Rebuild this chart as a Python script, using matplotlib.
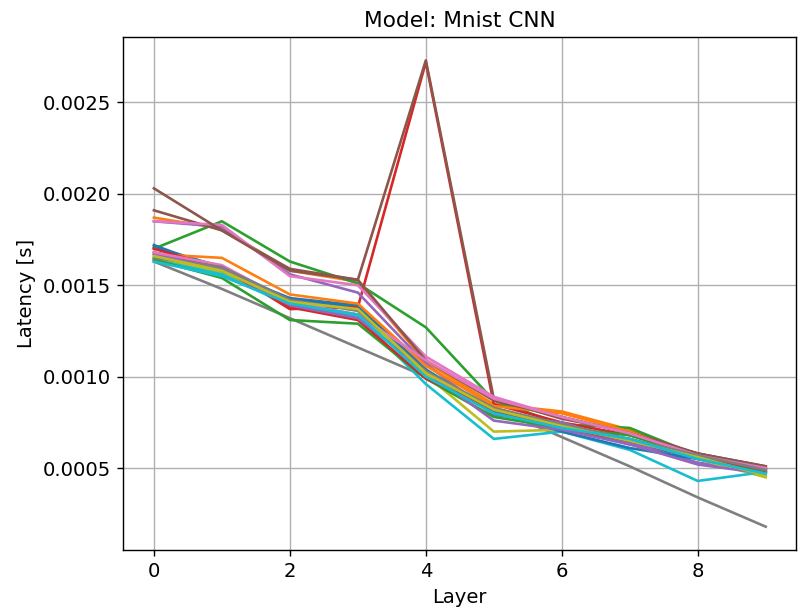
import matplotlib
matplotlib.use("Agg")
import matplotlib.pyplot as plt

layers = list(range(10))

# Per-run layer latencies in seconds
run_00 = [0.00171, 0.00160, 0.00142, 0.00138, 0.00102, 0.00082, 0.00072, 0.00063, 0.00056, 0.00049]
run_01 = [0.00187, 0.00181, 0.00158, 0.00152, 0.00108, 0.00085, 0.00081, 0.00071, 0.00057, 0.00050]
run_02 = [0.00170, 0.00185, 0.00163, 0.00151, 0.00127, 0.00087, 0.00074, 0.00072, 0.00057, 0.00048]
run_03 = [0.00168, 0.00160, 0.00137, 0.00138, 0.00272, 0.00085, 0.00075, 0.00068, 0.00058, 0.00050]
run_04 = [0.00185, 0.00182, 0.00156, 0.00146, 0.00107, 0.00079, 0.00075, 0.00064, 0.00053, 0.00048]
run_05 = [0.00191, 0.00180, 0.00159, 0.00153, 0.00273, 0.00088, 0.00077, 0.00070, 0.00058, 0.00051]
run_06 = [0.00185, 0.00183, 0.00155, 0.00150, 0.00111, 0.00089, 0.00078, 0.00069, 0.00057, 0.00050]
run_07 = [0.00163, 0.00148, 0.00132, 0.00116, 0.00100, 0.00083, 0.00067, 0.00051, 0.00034, 0.00018]
run_08 = [0.00165, 0.00157, 0.00140, 0.00134, 0.00101, 0.00070, 0.00071, 0.00066, 0.00055, 0.00045]
run_09 = [0.00164, 0.00156, 0.00139, 0.00133, 0.00096, 0.00066, 0.00070, 0.00060, 0.00043, 0.00048]
run_10 = [0.00172, 0.00158, 0.00143, 0.00139, 0.00104, 0.00081, 0.00070, 0.00061, 0.00055, 0.00048]
run_11 = [0.00167, 0.00165, 0.00145, 0.00140, 0.00106, 0.00084, 0.00080, 0.00070, 0.00056, 0.00049]
run_12 = [0.00164, 0.00154, 0.00131, 0.00129, 0.00099, 0.00078, 0.00072, 0.00068, 0.00056, 0.00047]
run_13 = [0.00170, 0.00159, 0.00138, 0.00131, 0.00099, 0.00082, 0.00072, 0.00065, 0.00056, 0.00049]
run_14 = [0.00167, 0.00159, 0.00139, 0.00132, 0.00103, 0.00076, 0.00071, 0.00063, 0.00052, 0.00047]
run_15 = [0.00203, 0.00180, 0.00158, 0.00153, 0.00109, 0.00087, 0.00078, 0.00069, 0.00058, 0.00051]
run_16 = [0.00168, 0.00161, 0.00141, 0.00134, 0.00109, 0.00088, 0.00078, 0.00069, 0.00057, 0.00050]
run_17 = [0.00165, 0.00160, 0.00142, 0.00136, 0.00103, 0.00083, 0.00074, 0.00066, 0.00057, 0.00049]
run_18 = [0.00166, 0.00158, 0.00141, 0.00137, 0.00102, 0.00082, 0.00073, 0.00065, 0.00056, 0.00046]
run_19 = [0.00163, 0.00155, 0.00140, 0.00134, 0.00100, 0.00080, 0.00072, 0.00066, 0.00055, 0.00047]

runs = [run_00, run_01, run_02, run_03, run_04, run_05, run_06, run_07, run_08, run_09,
        run_10, run_11, run_12, run_13, run_14, run_15, run_16, run_17, run_18, run_19]

plt.rcParams["font.size"] = 11.2

DPI = 126
fig = plt.figure(figsize=(806 / DPI, 612 / DPI), dpi=DPI)
ax = fig.add_axes([0.153, 0.1013, 0.835, 0.8382])

for r in runs:
    ax.plot(layers, r, linewidth=1.5)

ax.set_title("Model: Mnist CNN", fontsize=12.4)
ax.set_xlabel("Layer")
ax.set_ylabel("Latency [s]")
ax.grid(True)

fig.savefig("out.png", dpi=DPI)
